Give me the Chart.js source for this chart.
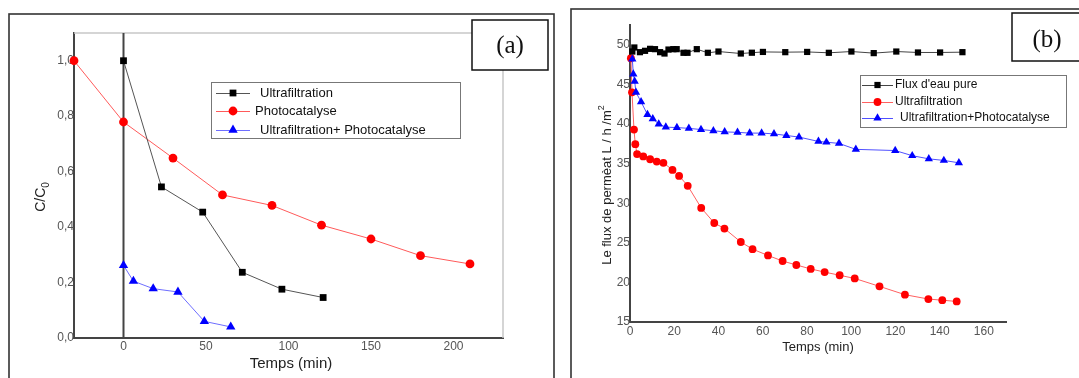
<!DOCTYPE html>
<html><head><meta charset="utf-8">
<script src="https://cdn.jsdelivr.net/npm/chart.js@4.4.1/dist/chart.umd.min.js"></script>
<style>
html,body{margin:0;padding:0;background:#fff;width:1079px;height:378px;overflow:hidden}
#ca{position:absolute;left:0;top:0}
#cb{position:absolute;left:560px;top:0}
</style></head><body>
<canvas id="ca" width="560" height="378"></canvas>
<canvas id="cb" width="519" height="378"></canvas>
<script>
// ---------- Panel (a) data ----------
const aLegend = ['Ultrafiltration', 'Photocatalyse', 'Ultrafiltration+ Photocatalyse'];
const aTimeUF = [0, 23, 48, 72, 96, 121];
const aUF     = [1.0, 0.545, 0.454, 0.237, 0.176, 0.146];
const aTimePC = [-30, 0, 30, 60, 90, 120, 150, 180, 210];
const aPC     = [1.0, 0.779, 0.649, 0.516, 0.478, 0.407, 0.357, 0.297, 0.267];
const aTimeUP = [0, 6, 18, 33, 49, 65];
const aUP     = [0.262, 0.205, 0.178, 0.166, 0.060, 0.040];
const aTicksX = [0, 50, 100, 150, 200];
const aTicksY = [0, 0.2, 0.4, 0.6, 0.8, 1.0];

// ---------- Panel (b) data ----------
const bLegend = ["Flux d'eau pure", 'Ultrafiltration', 'Ultrafiltration+Photocatalyse'];
const bTimeW = [1.05, 1.96, 4.5, 6.8, 9.1, 11.3, 13.6, 15.6, 17.4, 19.6, 21.1, 24.2, 26.0, 30.2, 35.2, 40.0, 50.1, 55.1, 60.1, 70.2, 80.1, 89.9, 100.1, 110.2, 120.4, 130.2, 140.2, 150.3];
const bW     = [49.15, 49.66, 49.07, 49.24, 49.49, 49.45, 49.07, 48.9, 49.4, 49.45, 49.45, 48.99, 48.99, 49.45, 48.99, 49.15, 48.9, 49.0, 49.1, 49.07, 49.1, 48.99, 49.15, 48.95, 49.15, 49.03, 49.03, 49.07];
const bTimeUF = [0.4, 0.9, 1.8, 2.4, 3.2, 6.0, 9.1, 12.1, 15.1, 19.2, 22.2, 26.1, 32.2, 38.1, 42.7, 50.1, 55.4, 62.4, 69.0, 75.2, 81.7, 88.0, 94.8, 101.6, 112.8, 124.3, 134.9, 141.2, 147.7];
const bUF     = [48.3, 44.0, 39.3, 37.45, 36.2, 35.9, 35.55, 35.25, 35.1, 34.2, 33.45, 32.2, 29.4, 27.5, 26.8, 25.1, 24.2, 23.4, 22.7, 22.2, 21.7, 21.3, 20.9, 20.5, 19.5, 18.45, 17.9, 17.75, 17.6];
const bTimeUP = [1.05, 1.5, 2.1, 2.7, 5.0, 7.9, 10.3, 13.0, 16.2, 21.2, 26.6, 32.1, 37.7, 42.8, 48.6, 54.1, 59.5, 65.1, 70.7, 76.4, 85.2, 88.8, 94.5, 102.1, 119.9, 127.6, 135.1, 141.9, 148.7];
const bUP     = [48.2, 46.3, 45.4, 44.0, 42.8, 41.2, 40.65, 40.0, 39.6, 39.55, 39.45, 39.3, 39.15, 39.0, 38.95, 38.85, 38.85, 38.75, 38.55, 38.35, 37.8, 37.7, 37.55, 36.8, 36.65, 36.0, 35.6, 35.4, 35.1];
const bTicksX = [0, 20, 40, 60, 80, 100, 120, 140, 160];
const bTicksY = [15, 20, 25, 30, 35, 40, 45, 50];

const SANS = '"Liberation Sans", Arial, sans-serif';
const SERIF = '"Liberation Serif", "Times New Roman", serif';

function pts(xs, ys) { return xs.map((x, i) => ({x: x, y: ys[i]})); }

function series(label, xs, ys, line, mark, style, r, order) {
  return {
    label: label, data: pts(xs, ys), borderColor: line, backgroundColor: mark,
    pointBackgroundColor: mark, pointBorderColor: mark, pointBorderWidth: 0,
    pointStyle: style, pointRadius: r, pointHoverRadius: r, borderWidth: 1,
    tension: 0, clip: false, order: order
  };
}

function drawLegend(chart, L) {
  const ctx = chart.ctx;
  ctx.save();
  ctx.fillStyle = '#fff';
  ctx.fillRect(L.x, L.y, L.w, L.h);
  ctx.strokeStyle = '#777'; ctx.lineWidth = 1;
  ctx.strokeRect(L.x + 0.5, L.y + 0.5, L.w, L.h);
  chart.data.datasets.forEach((ds, i) => {
    const y = L.rows[i];
    ctx.strokeStyle = ds.borderColor; ctx.lineWidth = 1;
    ctx.beginPath(); ctx.moveTo(L.lx1, y + 0.5); ctx.lineTo(L.lx2, y + 0.5); ctx.stroke();
    ctx.fillStyle = ds.pointBackgroundColor; ctx.strokeStyle = ds.pointBorderColor;
    Chart.helpers.drawPoint(ctx, {pointStyle: ds.pointStyle, radius: ds.pointRadius, rotation: 0, borderWidth: 0}, (L.lx1 + L.lx2) / 2, y);
    ctx.fillStyle = '#111'; ctx.font = L.font; ctx.textBaseline = 'middle'; ctx.textAlign = 'left';
    ctx.fillText(ds.label, L.tx[i], y);
  });
  ctx.restore();
}

function drawLabelBox(ctx, x, y, w, h, text, tx, ty) {
  ctx.save();
  ctx.fillStyle = '#fff'; ctx.fillRect(x, y, w, h);
  ctx.strokeStyle = '#111'; ctx.lineWidth = 1.5; ctx.strokeRect(x, y, w, h);
  ctx.fillStyle = '#111'; ctx.font = '25px ' + SERIF;
  ctx.textAlign = 'center'; ctx.textBaseline = 'middle';
  ctx.fillText(text, tx, ty);
  ctx.restore();
}

// rotated title with a small sub/superscript part
function drawRotTitle(ctx, cx, cy, main, small, fontPx, smallPx, shift) {
  ctx.save();
  ctx.translate(cx, cy); ctx.rotate(-Math.PI / 2);
  ctx.font = fontPx + 'px ' + SANS;
  const w1 = ctx.measureText(main).width;
  ctx.font = smallPx + 'px ' + SANS;
  const w2 = ctx.measureText(small).width;
  const x0 = -(w1 + w2) / 2;
  ctx.fillStyle = '#222'; ctx.textBaseline = 'middle'; ctx.textAlign = 'left';
  ctx.font = fontPx + 'px ' + SANS;
  ctx.fillText(main, x0, 0);
  ctx.font = smallPx + 'px ' + SANS;
  ctx.fillText(small, x0 + w1, shift);
  ctx.restore();
}

const plugA = {
  id: 'plugA',
  beforeDatasetsDraw(chart) {
    const ctx = chart.ctx, a = chart.chartArea, xs = chart.scales.x;
    ctx.save();
    ctx.strokeStyle = '#c8c8c8'; ctx.lineWidth = 1.5;
    ctx.beginPath(); ctx.moveTo(a.left, a.top); ctx.lineTo(a.right, a.top); ctx.lineTo(a.right, a.bottom); ctx.stroke();
    const x0 = xs.getPixelForValue(0);
    ctx.strokeStyle = '#444'; ctx.lineWidth = 2;
    ctx.beginPath(); ctx.moveTo(x0, a.top); ctx.lineTo(x0, a.bottom); ctx.stroke();
    ctx.restore();
  },
  afterDraw(chart) {
    const ctx = chart.ctx;
    ctx.save();
    ctx.strokeStyle = '#333'; ctx.lineWidth = 1.6;
    ctx.strokeRect(9, 14, 545, 400);
    ctx.restore();
    drawLabelBox(ctx, 472, 20, 76, 50, '(a)', 510, 46);
    drawLegend(chart, {x: 211, y: 82, w: 249, h: 56, rows: [93, 111, 130], lx1: 216, lx2: 250,
      tx: [260, 255, 260], font: '13px ' + SANS});
    drawRotTitle(ctx, 41, 197, 'C/C', '0', 14, 10, 5);
    ctx.save();
    ctx.fillStyle = '#222'; ctx.font = '15px ' + SANS; ctx.textAlign = 'center'; ctx.textBaseline = 'middle';
    ctx.fillText('Temps (min)', 291, 364);
    ctx.restore();
  }
};

const plugB = {
  id: 'plugB',
  afterDraw(chart) {
    const ctx = chart.ctx;
    ctx.save();
    ctx.strokeStyle = '#333'; ctx.lineWidth = 1.6;
    ctx.strokeRect(11, 9, 600, 400);
    ctx.restore();
    drawLabelBox(ctx, 452, 13, 90, 48, '(b)', 487, 40);
    drawLegend(chart, {x: 300, y: 75, w: 206, h: 52, rows: [85, 102, 118], lx1: 302, lx2: 333,
      tx: [335, 335, 340], font: '12px ' + SANS});
    drawRotTitle(ctx, 47, 185, 'Le flux de permèat L / h /m', '2', 13, 9, -5);
    ctx.save();
    ctx.fillStyle = '#222'; ctx.font = '13px ' + SANS; ctx.textAlign = 'center'; ctx.textBaseline = 'middle';
    ctx.fillText('Temps (min)', 258, 347);
    ctx.restore();
  }
};

function axis(opts) {
  return Object.assign({
    type: 'linear',
    grid: {display: false, drawTicks: false},
    border: {display: true, color: '#444', width: 2},
    title: {display: false}
  }, opts);
}

new Chart(document.getElementById('ca'), {
  type: 'line',
  data: {datasets: [
    series(aLegend[0], aTimeUF, aUF, '#555555', '#000000', 'rect', 4.8, 0),
    series(aLegend[1], aTimePC, aPC, '#ff5a5a', '#ff0000', 'circle', 4.4, 1),
    series(aLegend[2], aTimeUP, aUP, '#6e6eff', '#0000ff', 'triangle', 5.4, 2)
  ]},
  options: {
    responsive: false, animation: false, devicePixelRatio: 1,
    layout: {padding: {left: 0, top: 33, right: 57, bottom: 0}},
    plugins: {legend: {display: false}, tooltip: {enabled: false}},
    scales: {
      x: axis({min: -30, max: 230,
        afterFit: s => { s.height = 40; },
        afterBuildTicks: s => { s.ticks = aTicksX.map(v => ({value: v})); },
        ticks: {padding: 1, color: '#555', font: {family: SANS, size: 12}, maxRotation: 0, autoSkip: false}}),
      y: axis({min: 0, max: 1.1,
        afterFit: s => { s.width = 74; },
        afterBuildTicks: s => { s.ticks = aTicksY.map(v => ({value: v})); },
        ticks: {padding: 0, color: '#555', font: {family: SANS, size: 12},
          callback: v => Number(v).toFixed(1).replace('.', ',')}})
    }
  },
  plugins: [plugA]
});

new Chart(document.getElementById('cb'), {
  type: 'line',
  data: {datasets: [
    series(bLegend[0], bTimeW, bW, '#444444', '#000000', 'rect', 4.4, 0),
    series(bLegend[1], bTimeUF, bUF, '#ff6060', '#ff0000', 'circle', 3.9, 2),
    series(bLegend[2], bTimeUP, bUP, '#5050ff', '#0000ff', 'triangle', 4.8, 1)
  ]},
  options: {
    responsive: false, animation: false, devicePixelRatio: 1,
    layout: {padding: {left: 0, top: 25, right: 73, bottom: 0}},
    plugins: {legend: {display: false}, tooltip: {enabled: false}},
    scales: {
      x: axis({min: 0, max: 170,
        afterFit: s => { s.height = 56; },
        afterBuildTicks: s => { s.ticks = bTicksX.map(v => ({value: v})); },
        ticks: {padding: 2, color: '#555', font: {family: SANS, size: 12}, maxRotation: 0, autoSkip: false}}),
      y: axis({min: 15, max: 52.5,
        afterFit: s => { s.width = 70; },
        afterBuildTicks: s => { s.ticks = bTicksY.map(v => ({value: v})); },
        ticks: {padding: 0, color: '#555', font: {family: SANS, size: 12}}})
    }
  },
  plugins: [plugB]
});
</script>
</body></html>
